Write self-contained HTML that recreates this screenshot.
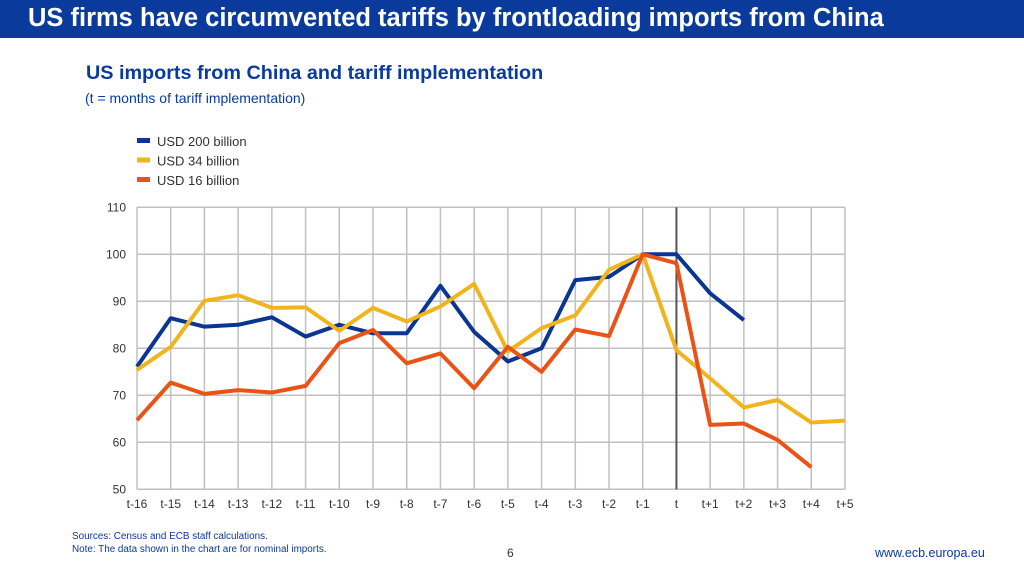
<!DOCTYPE html>
<html><head><meta charset="utf-8"><style>
body{margin:0;width:1024px;height:576px;background:#fff;font-family:"Liberation Sans",sans-serif;position:relative;overflow:hidden}
.hdr{position:absolute;left:0;top:0;width:1024px;height:38px;background:#0a3a9c}
.hdr div{position:absolute;left:28px;top:4px;color:#fff;font-weight:bold;font-size:25.5px;white-space:nowrap}
.abs{position:absolute;white-space:nowrap}
</style></head><body>
<div class="hdr"><div>US firms have circumvented tariffs by frontloading imports from China</div></div>
<div class="abs" style="left:86px;top:62px;font-size:19.8px;font-weight:bold;color:#0a3a9c">US imports from China and tariff implementation</div>
<div class="abs" style="left:85px;top:90px;font-size:14px;color:#0a3a9c">(t = months of tariff implementation)</div>
<div class="abs" style="left:72px;top:530px;font-size:9.9px;color:#0a3a9c;line-height:13px">Sources: Census and ECB staff calculations.<br>Note: The data shown in the chart are for nominal imports.</div>
<div class="abs" style="left:507px;top:546px;font-size:12px;color:#333">6</div>
<div class="abs" style="left:875px;top:546px;font-size:12.5px;color:#0a3a9c">www.ecb.europa.eu</div>
<svg id="chart" width="1024" height="576" style="position:absolute;left:0;top:0"></svg>
<script>
const categories=["t-16","t-15","t-14","t-13","t-12","t-11","t-10","t-9","t-8","t-7","t-6","t-5","t-4","t-3","t-2","t-1","t","t+1","t+2","t+3","t+4","t+5"];
const yTicks=[50,60,70,80,90,100,110];
const seriesNames=["USD 200 billion","USD 34 billion","USD 16 billion"];
const usd200=[76.1,86.4,84.6,85.0,86.6,82.5,85.0,83.2,83.2,93.3,83.5,77.2,80.0,94.5,95.2,100,100,91.7,86.0];
const usd34=[75.4,80.3,90.1,91.3,88.6,88.7,83.7,88.6,85.7,88.9,93.7,79.3,84.3,87.0,96.7,100,79.6,73.6,67.4,69.0,64.2,64.6];
const usd16=[64.7,72.7,70.3,71.1,70.6,72.0,81.1,83.9,76.8,78.9,71.5,80.3,75.0,84.0,82.6,100,98.1,63.7,64.0,60.5,54.7];
const colors=["#0b3592","#f0b41c","#ea5316"];
const NS="http://www.w3.org/2000/svg";
const svg=document.getElementById('chart');
const X0=137,X1=845,Y0=489.3,Y1=207.3;
const x=i=>X0+(X1-X0)*i/(categories.length-1);
const y=v=>Y0-(v-50)/(110-50)*(Y0-Y1);
function mk(t,a){const e=document.createElementNS(NS,t);for(const k in a)e.setAttribute(k,a[k]);svg.appendChild(e);return e;}
yTicks.forEach(v=>{
 const l=mk('line',{x1:X0,x2:X1,y1:y(v),y2:y(v),stroke:'#c0c0c0','stroke-width':1.5});
 
 
 const t=mk('text',{x:126,y:y(v)+4,'text-anchor':'end','font-size':12,fill:'#333','font-family':'Liberation Sans, sans-serif'});
 t.textContent=v;
 
 
});
categories.forEach((c,i)=>{
 const isT=c==='t';
 const l=mk('line',{x1:x(i),x2:x(i),y1:Y1,y2:Y0,stroke:isT?'#555':'#c0c0c0','stroke-width':isT?2:1.5});
 
 
 const t=mk('text',{x:x(i),y:508,'text-anchor':'middle','font-size':12,fill:'#333','font-family':'Liberation Sans, sans-serif'});
 t.textContent=c;
 
 
});
[usd200,usd34,usd16].forEach((d,s)=>{
 const p=mk('polyline',{points:d.map((v,i)=>x(i)+','+y(v)).join(' '),fill:'none',stroke:colors[s],'stroke-width':4,'stroke-linejoin':'round'});
 
 
 const r=mk('rect',{x:137,y:138+s*19.5,width:13,height:5,fill:colors[s]});
 
 
 const t=mk('text',{x:157,y:146+s*19.5,'font-size':13,fill:'#333','font-family':'Liberation Sans, sans-serif'});
 t.textContent=seriesNames[s];
 
 
});
</script>
</body></html>
